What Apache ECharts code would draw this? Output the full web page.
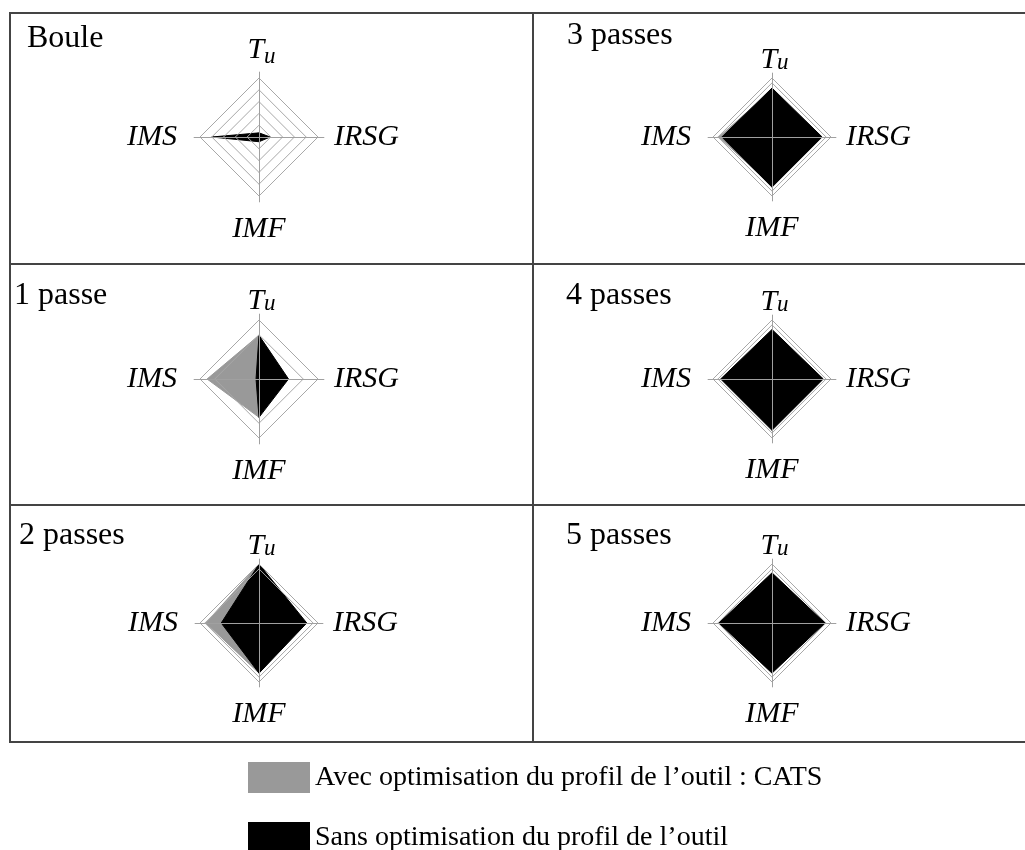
<!DOCTYPE html>
<html>
<head>
<meta charset="utf-8">
<script src="https://cdn.jsdelivr.net/npm/echarts@6/dist/echarts.min.js"></script>
<style>
html, body { margin: 0; background: #fff; }
#main { width: 1025px; height: 850px; }
</style>
</head>
<body>
<div id="main"></div>
<script>
// axes of each radar, in echarts order (top, then counter-clockwise)
var axes = ['Tu', 'IMS', 'IMF', 'IRSG'];
var panels = ['Boule', '1 passe', '2 passes', '3 passes', '4 passes', '5 passes'];
var seriesNames = ['Avec optimisation du profil de l\u2019outil : CATS', 'Sans optimisation du profil de l\u2019outil'];
// relative values (1 = outer ring), order Tu, IMS, IMF, IRSG
var avecCats = [
    [0.05, 0.70, 0.06, 0.15],
    [0.74, 0.88, 0.65, 0.30],
    [1.00, 0.90, 0.85, 0.75],
    [0.80, 0.90, 0.83, 0.83],
    [0.82, 0.85, 0.85, 0.85],
    [0.83, 0.88, 0.83, 0.88]
];
var sansOpt = [
    [0.07, 0.80, 0.08, 0.19],
    [0.74, 0.05, 0.65, 0.50],
    [1.00, 0.64, 0.85, 0.81],
    [0.83, 0.85, 0.85, 0.85],
    [0.84, 0.87, 0.87, 0.87],
    [0.85, 0.90, 0.85, 0.90]
];

var myChart = echarts.init(document.getElementById('main'));

var font = 'Liberation Serif';
var R = 59; // outer ring radius in px
// panel layout : centre, title position, Tu label lift [T bottom padding, subscript lineHeight]
var centers = [[259, 137], [259, 379], [259, 623], [772, 137], [772, 379], [772, 623]];
var titlePos = [[27, 23], [14, 280], [19, 520], [567, 20], [566, 280], [566, 520]];
var tuLift = [[13, 27], [6, 13], [6, 13], [6, 13], [6, 13], [6, 13]];
// scale per panel : split count, max, visible rings
var scales = [
    {n: 11, max: 1.1, rings: [2, 4, 6, 8, 10]},
    {n: 22, max: 1.1, rings: [15, 20]},
    {n: 13, max: 13 / 12, rings: [11, 12]},
    {n: 13, max: 13 / 12, rings: [11, 12]},
    {n: 13, max: 13 / 12, rings: [11, 12]},
    {n: 13, max: 13 / 12, rings: [11, 12]}
];

function ringColors(s) {
    var c = [];
    for (var i = 0; i <= s.n; i++) {
        c.push(s.rings.indexOf(i) >= 0 ? '#a8a8a8' : 'rgba(0,0,0,0)');
    }
    return c;
}

var radars = [], series = [], titles = [];
panels.forEach(function (p, i) {
    var s = scales[i];
    radars.push({
        center: centers[i],
        radius: R * s.max,
        startAngle: 90,
        splitNumber: s.n,
        shape: 'polygon',
        z: 5,
        indicator: axes.map(function (a) { return {name: a, min: 0, max: s.max}; }),
        nameGap: 2,
        axisName: {
            color: '#000',
            fontFamily: font,
            fontStyle: 'italic',
            fontSize: 30,
            formatter: function (name) {
                if (name === 'Tu') return '{t|T}{u|u}';
                if (name === 'IMS') return '{l|IMS}';
                if (name === 'IRSG') return '{r|IRSG}';
                return '{b|' + name + '}';
            },
            rich: {
                t: {fontFamily: font, fontStyle: 'italic', fontSize: 30, lineHeight: 16, padding: [0, 0, tuLift[i][0], 5], color: '#000'},
                u: {fontFamily: font, fontStyle: 'italic', fontSize: 23, lineHeight: tuLift[i][1], color: '#000'},
                l: {fontFamily: font, fontStyle: 'italic', fontSize: 30, padding: [0, 15, 0, 0], color: '#000'},
                r: {fontFamily: font, fontStyle: 'italic', fontSize: 30, padding: [0, 0, 0, 8], color: '#000'},
                b: {fontFamily: font, fontStyle: 'italic', fontSize: 30, lineHeight: 30, padding: [20, 0, 0, 0], color: '#000'}
            }
        },
        axisLine: {lineStyle: {color: '#a0a0a0', width: 1}},
        splitLine: {lineStyle: {color: ringColors(s), width: 1}},
        splitArea: {show: false},
        axisTick: {show: false},
        axisLabel: {show: false}
    });
    series.push({
        type: 'radar',
        radarIndex: i,
        name: seriesNames[0],
        symbol: 'none',
        silent: true,
        itemStyle: {color: '#999999'},
        lineStyle: {color: '#999999', width: 1},
        areaStyle: {color: '#999999', opacity: 1},
        data: [{name: seriesNames[0], value: avecCats[i]}]
    });
    series.push({
        type: 'radar',
        radarIndex: i,
        name: seriesNames[1],
        symbol: 'none',
        silent: true,
        itemStyle: {color: '#000000'},
        lineStyle: {color: '#000000', width: 1},
        areaStyle: {color: '#000000', opacity: 1},
        data: [{name: seriesNames[1], value: sansOpt[i]}]
    });
    titles.push({
        text: p,
        left: titlePos[i][0],
        top: titlePos[i][1],
        padding: 0,
        textStyle: {fontFamily: font, fontWeight: 'normal', fontSize: 32, color: '#000'}
    });
});

var line = {stroke: '#444', lineWidth: 2};
var option = {
    backgroundColor: '#fff',
    animation: false,
    title: titles,
    radar: radars,
    legend: {
        orient: 'vertical',
        left: 248,
        top: 762,
        height: 140,
        padding: 0,
        itemWidth: 62,
        itemHeight: 31,
        itemGap: 29,
        selectedMode: false,
        icon: 'rect',
        itemStyle: {borderWidth: 0},
        textStyle: {fontFamily: font, fontSize: 28, color: '#000'},
        data: seriesNames
    },
    graphic: [
        {type: 'rect', shape: {x: 10, y: 13, width: 1030, height: 729}, style: {fill: 'none', stroke: '#444', lineWidth: 2}},
        {type: 'line', shape: {x1: 533, y1: 13, x2: 533, y2: 742}, style: line},
        {type: 'line', shape: {x1: 10, y1: 264, x2: 1025, y2: 264}, style: line},
        {type: 'line', shape: {x1: 10, y1: 505, x2: 1025, y2: 505}, style: line}
    ],
    series: series
};
myChart.setOption(option);
</script>
</body>
</html>
